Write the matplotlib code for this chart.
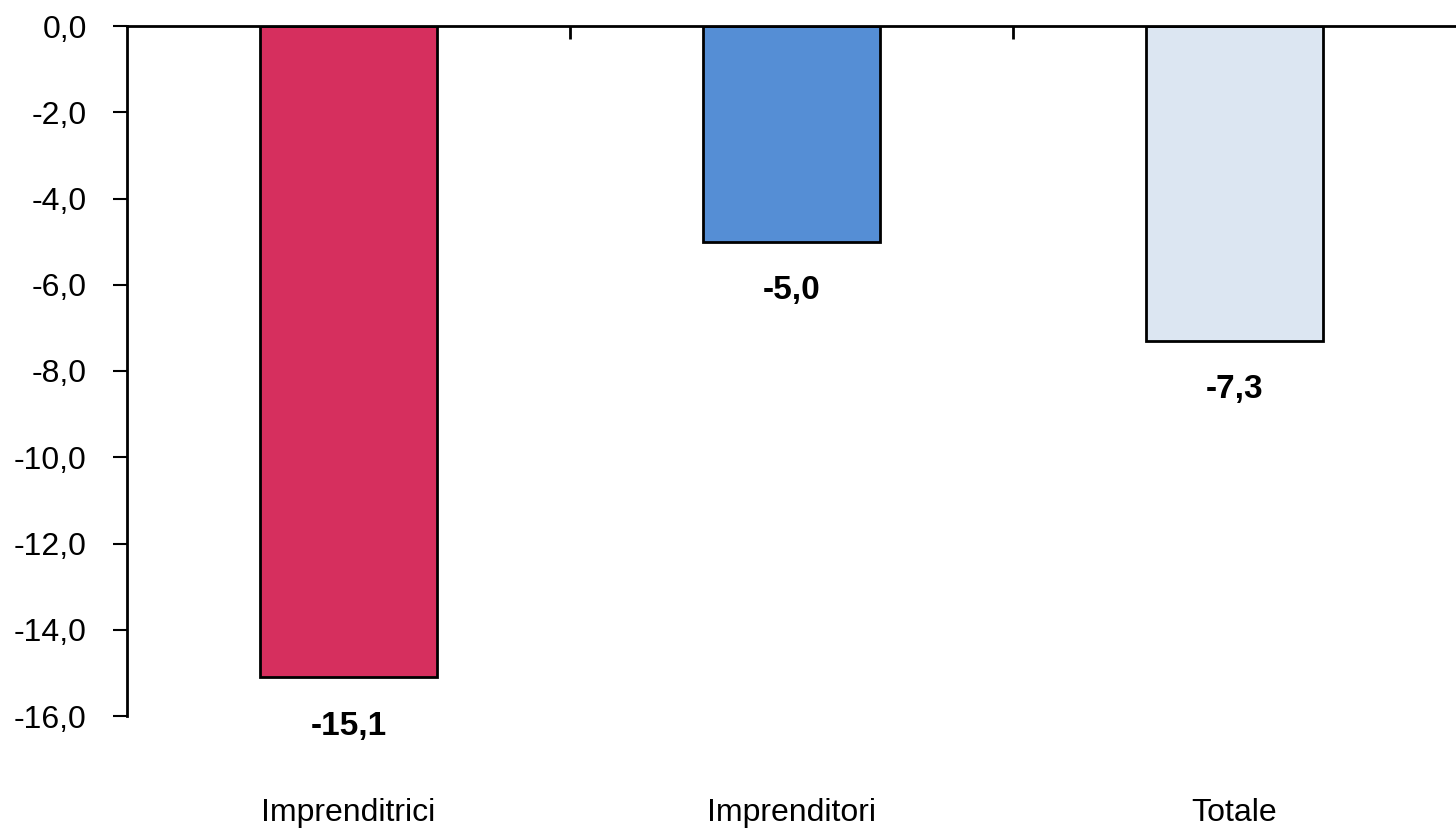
import matplotlib
matplotlib.use("Agg")
import matplotlib.pyplot as plt
from matplotlib import font_manager
from matplotlib.transforms import blended_transform_factory

categories = ["Imprenditrici", "Imprenditori", "Totale"]
values = [-15.1, -5.0, -7.3]
colors = ["#D62F5E", "#558ED5", "#DCE6F2"]
yticks = [0, -2, -4, -6, -8, -10, -12, -14, -16]

names = {f.name for f in font_manager.fontManager.ttflist}
fam = ["Liberation Sans Narrow", "Liberation Sans", "DejaVu Sans"]
fam = [f for f in fam if f in names] or ["DejaVu Sans"]
plt.rcParams["font.family"] = fam

fig = plt.figure(figsize=(14.56, 8.36), dpi=100)
ax = fig.add_axes([127/1456, 1-716/836, 1-127/1456, (716-26)/836])

x = list(range(len(categories)))
ax.bar(x, values, width=0.4, color=colors, edgecolor="black", linewidth=2)
ax.set_xlim(-0.5, len(categories)-0.5)
ax.set_ylim(-16, 0)

ax.spines["right"].set_visible(False)
ax.spines["bottom"].set_visible(False)
ax.spines["top"].set_linewidth(2)
ax.spines["left"].set_linewidth(2)

ax.set_yticks(yticks)
ax.set_yticklabels([f"{v:.1f}".replace(".", ",") for v in yticks], fontsize=23)
ax.tick_params(axis="y", direction="out", length=10, width=1.5, pad=19)

ax.xaxis.set_ticks_position("top")
ax.set_xticks([0.5, 1.5])
ax.set_xticklabels([])
ax.tick_params(axis="x", direction="in", length=9, width=2)

for xi, v in zip(x, values):
    ax.annotate(f"{v:.1f}".replace(".", ","), (xi, v), xytext=(0, -49),
                textcoords="offset pixels", ha="center", va="center",
                fontsize=24, fontweight="bold")

tr = blended_transform_factory(ax.transData, ax.transAxes)
for xi, c in zip(x, categories):
    ax.text(xi, (716-813)/690, c, transform=tr, ha="center", va="center", fontsize=23)

fig.savefig("out.png", dpi=100)
